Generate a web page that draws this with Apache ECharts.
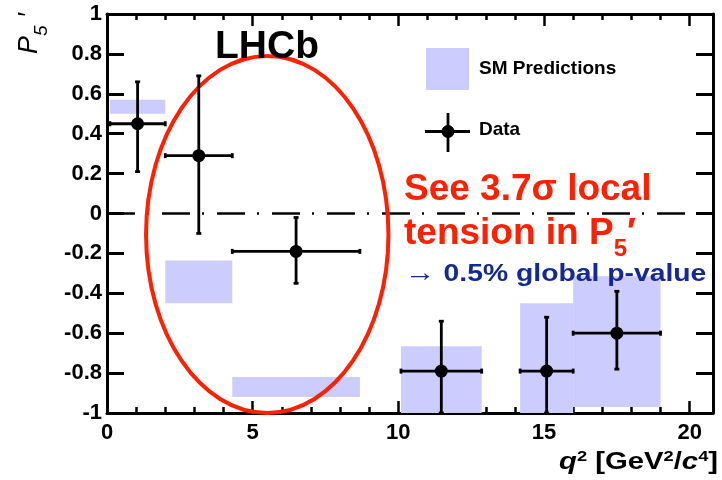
<!DOCTYPE html>
<html><head><meta charset="utf-8">
<script src="https://cdn.jsdelivr.net/npm/echarts@6/dist/echarts.min.js"></script>
<style>html,body{margin:0;padding:0;background:#fff}#c{width:722px;height:480px}</style>
</head><body><div id="c"></div>
<script>
// ---- Data ----
const binLow  = [0.1, 2.0, 4.3, 10.09, 14.18, 16.0];
const binHigh = [2.0, 4.3, 8.68, 12.86, 16.0, 19.0];
const dataP5  = [0.45, 0.29, -0.19, -0.79, -0.79, -0.60];
const errUp   = [0.21, 0.40, 0.17, 0.25, 0.27, 0.21];
const errDown = [0.24, 0.39, 0.16, 0.21, 0.21, 0.18];

const smLow  = [0.1, 2.0, 4.3, 10.09, 14.18, 16.0];
const smHigh = [2.0, 4.3, 8.68, 12.86, 16.0, 19.0];
const smMin  = [0.50, -0.45, -0.92, -1.0, -1.0, -0.97];
const smMax  = [0.57, -0.235, -0.82, -0.665, -0.45, -0.315];

const xTickLabels = [0, 5, 10, 15, 20];
const referenceLine = [[0, 0], [20.8, 0]];
// annotation ellipse: centre x, centre y, radius x, radius y (data units)
const ellipseAnno = [[5.5, -0.105, 4.16, 0.895]];

const FONT = 'Liberation Sans';
const RED = '#ff2000';
const BLUE = '#142896';
const SMCOL = '#ccccff';

const chart = echarts.init(document.getElementById('c'), null, {renderer: 'canvas'});

function xAxisDef(pos, interval, tickLen, showLabel, showLine) {
  return {
    type: 'value', position: pos, min: 0, max: 20.8, interval: interval,
    axisLine: {show: showLine, onZero: false, lineStyle: {color: '#000', width: 3}},
    axisTick: {show: true, inside: true, length: tickLen, lineStyle: {color: '#000', width: 2.5}},
    axisLabel: {
      show: showLabel, margin: 9, color: '#000', fontSize: 22, fontWeight: 'bold', fontFamily: FONT,
      formatter: v => xTickLabels.indexOf(v) >= 0 ? String(v) : ''
    },
    splitLine: {show: false}
  };
}
function yAxisDef(pos, showLabel) {
  return {
    type: 'value', position: pos, min: -1, max: 1, interval: 0.2,
    axisLine: {show: true, onZero: false, lineStyle: {color: '#000', width: 3}},
    axisTick: {show: true, inside: true, length: 17, lineStyle: {color: '#000', width: 3}},
    axisLabel: {show: showLabel, margin: 5, color: '#000', fontSize: 22, fontWeight: 'bold', fontFamily: FONT},
    splitLine: {show: false}
  };
}

const errData = dataP5.map((y, i) => [
  (binLow[i] + binHigh[i]) / 2, y, binLow[i], binHigh[i], y - errDown[i], y + errUp[i]
]);
const boxData = smLow.map((l, i) => [l, smHigh[i], smMin[i], smMax[i]]);

const option = {
  animation: false,
  backgroundColor: '#fff',
  grid: {left: 107, top: 14, width: 606, height: 399, containLabel: false},
  xAxis: [
    xAxisDef('bottom', 5, 12, true, true),
    xAxisDef('bottom', 1, 6, false, false),
    xAxisDef('top', 5, 12, false, true),
    xAxisDef('top', 1, 6, false, false)
  ],
  yAxis: [yAxisDef('left', true), yAxisDef('right', false)],
  series: [
    {
      type: 'custom', name: 'SM Predictions', xAxisIndex: 0, yAxisIndex: 0, silent: true, z: 1,
      data: boxData,
      renderItem: (params, api) => {
        const p0 = api.coord([api.value(0), api.value(3)]);
        const p1 = api.coord([api.value(1), api.value(2)]);
        return {type: 'rect', shape: {x: p0[0], y: p0[1], width: p1[0] - p0[0], height: p1[1] - p0[1]},
                style: {fill: SMCOL}};
      }
    },
    {
      type: 'line', xAxisIndex: 0, yAxisIndex: 0, data: referenceLine, symbol: 'none', silent: true, z: 2,
      lineStyle: {color: '#000', width: 2.5, type: [28, 12, 2, 13]}
    },
    {
      type: 'custom', xAxisIndex: 0, yAxisIndex: 0, silent: true, z: 3, clip: false,
      data: ellipseAnno,
      renderItem: (params, api) => {
        const c = api.coord([api.value(0), api.value(1)]);
        const s = api.size([api.value(2), api.value(3)]);
        return {type: 'ellipse', shape: {cx: c[0], cy: c[1], rx: s[0], ry: s[1]},
                style: {fill: 'none', stroke: RED, lineWidth: 4}};
      }
    },
    {
      type: 'custom', name: 'Data', xAxisIndex: 0, yAxisIndex: 0, silent: true, z: 4, clip: true,
      data: errData,
      renderItem: (params, api) => {
        const c = api.coord([api.value(0), api.value(1)]);
        const l = api.coord([api.value(2), api.value(1)]);
        const r = api.coord([api.value(3), api.value(1)]);
        const b = api.coord([api.value(0), api.value(4)]);
        const t = api.coord([api.value(0), api.value(5)]);
        const st = {stroke: '#000', lineWidth: 2.8};
        const cap = 2.5;
        return {type: 'group', children: [
          {type: 'line', shape: {x1: l[0], y1: l[1], x2: r[0], y2: r[1]}, style: st},
          {type: 'line', shape: {x1: b[0], y1: b[1], x2: t[0], y2: t[1]}, style: st},
          {type: 'line', shape: {x1: l[0], y1: l[1] - cap, x2: l[0], y2: l[1] + cap}, style: st},
          {type: 'line', shape: {x1: r[0], y1: r[1] - cap, x2: r[0], y2: r[1] + cap}, style: st},
          {type: 'line', shape: {x1: b[0] - cap, y1: b[1], x2: b[0] + cap, y2: b[1]}, style: st},
          {type: 'line', shape: {x1: t[0] - cap, y1: t[1], x2: t[0] + cap, y2: t[1]}, style: st},
          {type: 'circle', shape: {cx: c[0], cy: c[1], r: 6.5}, style: {fill: '#000'}}
        ]};
      }
    }
  ],
  graphic: [
    {type: 'text', left: 215, top: 28, z: 10,
     style: {text: 'LHCb', font: 'bold 39px "Liberation Sans"', fill: '#000'}},
    // legend
    {type: 'rect', shape: {x: 426, y: 48, width: 43, height: 42}, style: {fill: SMCOL}, z: 10},
    {type: 'text', x: 479, y: 69, z: 10,
     style: {text: 'SM Predictions', font: 'bold 19px "Liberation Sans"', fill: '#000', verticalAlign: 'middle'}},
    {type: 'line', shape: {x1: 425, y1: 131.5, x2: 470, y2: 131.5}, style: {stroke: '#000', lineWidth: 2.8}, z: 10},
    {type: 'line', shape: {x1: 448, y1: 113, x2: 448, y2: 152}, style: {stroke: '#000', lineWidth: 2.8}, z: 10},
    {type: 'circle', shape: {cx: 448, cy: 131.5, r: 6.5}, style: {fill: '#000'}, z: 10},
    {type: 'text', x: 479, y: 130, z: 10,
     style: {text: 'Data', font: 'bold 19px "Liberation Sans"', fill: '#000', verticalAlign: 'middle'}},
    // annotation
    {type: 'text', x: 404, y: 190, z: 10,
     style: {text: 'See 3.7σ local', font: 'bold 37px "Liberation Sans"', fill: RED, verticalAlign: 'middle'}},
    {type: 'text', x: 404, y: 238, z: 10,
     style: {
       text: '{m|tension in P}{s|5}{m|′}', verticalAlign: 'middle',
       rich: {
         m: {fontFamily: FONT, fontWeight: 'bold', fontSize: 37, fill: RED, color: RED, verticalAlign: 'bottom', padding: [0, 0, 9, 0]},
         s: {fontFamily: FONT, fontWeight: 'bold', fontSize: 24, fill: RED, color: RED, verticalAlign: 'bottom'}
       }
     }},
    {type: 'text', x: 405, y: 274, scaleX: 1.18, z: 10,
     style: {
       text: '{a|→}{t| 0.5% global p-value}', verticalAlign: 'middle',
       rich: {
         a: {fontFamily: FONT, fontSize: 26, fill: BLUE, verticalAlign: 'middle'},
         t: {fontFamily: FONT, fontWeight: 'bold', fontSize: 24, fill: BLUE, verticalAlign: 'middle'}
       }
     }},
    // axis titles
    {type: 'text', x: 559, y: 462, scaleX: 1.22, z: 10,
     style: {
       text: '{i|q}{u|2}{n| [GeV}{u|2}{n|/}{i|c}{u|4}{n|]}', verticalAlign: 'middle',
       rich: {
         i: {fontFamily: FONT, fontWeight: 'bold', fontStyle: 'italic', fontSize: 24, fill: '#000', verticalAlign: 'bottom'},
         n: {fontFamily: FONT, fontWeight: 'bold', fontSize: 24, fill: '#000', verticalAlign: 'bottom'},
         u: {fontFamily: FONT, fontWeight: 'bold', fontSize: 15, fill: '#000', verticalAlign: 'bottom', padding: [0, 0, 10, 0]}
       }
     }},
    {type: 'text', x: 51, y: 54, rotation: Math.PI / 2, z: 10,
     style: {
       text: '{m|P}{s|5}{p| ′}', verticalAlign: 'bottom', align: 'left',
       rich: {
         m: {fontFamily: FONT, fontStyle: 'italic', fontSize: 27, fill: '#000', verticalAlign: 'bottom', padding: [0, 0, 8, 0]},
         s: {fontFamily: FONT, fontStyle: 'italic', fontSize: 19, fill: '#000', verticalAlign: 'bottom'},
         p: {fontFamily: FONT, fontStyle: 'italic', fontSize: 27, fill: '#000', verticalAlign: 'bottom', padding: [0, 0, 8, 0]}
       }
     }}
  ]
};
chart.setOption(option);
</script>
</body></html>
